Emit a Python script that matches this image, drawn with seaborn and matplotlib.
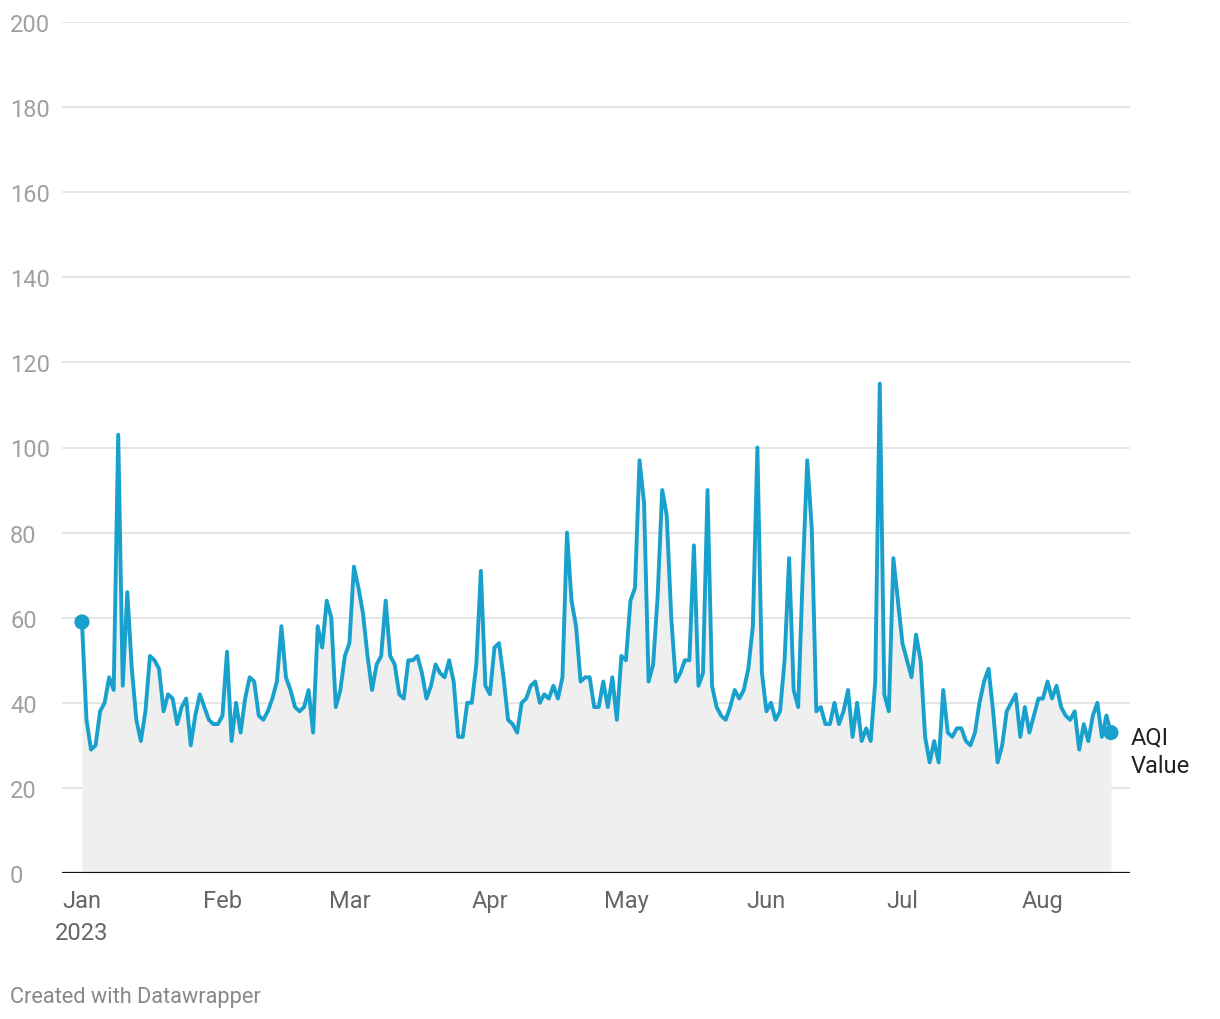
import pandas as pd
import seaborn as sns
import matplotlib.pyplot as plt

# daily AQI values, Jan 1 2023 onwards
aqi = [
    59, 36, 29, 30, 38, 40, 46, 43, 103, 44, 66, 48, 36, 31, 38, 51, 50, 48, 38, 42,
    41, 35, 39, 41, 30, 37, 42, 39, 36, 35, 35,
    37, 52, 31, 40, 33, 41, 46, 45, 37, 36, 38, 41, 45, 58, 46, 43, 39, 38, 39,
    43, 33, 58, 53, 64, 60, 39, 43, 51,
    54, 72, 67, 61, 51, 43, 49, 51, 64, 51, 49, 42, 41, 50, 50, 51, 47, 41, 44, 49,
    47, 46, 50, 45, 32, 32, 40, 40, 49, 71, 44,
    42, 53, 54, 46, 36, 35, 33, 40, 41, 44, 45, 40, 42, 41, 44, 41, 46, 80, 64, 58,
    45, 46, 46, 39, 39, 45, 39, 46, 36, 51,
    50, 64, 67, 97, 87, 45, 49, 65, 90, 84, 60, 45, 47, 50, 50, 77, 44, 47, 90, 44,
    39, 37, 36, 39, 43, 41, 43, 48, 58, 100, 47,
    38, 40, 36, 38, 50, 74, 43, 39, 70, 97, 81, 38, 39, 35, 35, 40, 35, 38, 43, 32,
    40, 31, 34, 31, 45, 115, 42, 38, 74, 64,
    54, 50, 46, 56, 50, 32, 26, 31, 26, 43, 33, 32, 34, 34, 31, 30, 33, 40, 45, 48,
    38, 26, 30, 38, 40, 42, 32, 39, 33, 37, 41,
    41, 45, 41, 44, 39, 37, 36, 38, 29, 35, 31, 37, 40, 32, 37, 33,
]
months = ["2023-01-01", "2023-02-01", "2023-03-01", "2023-04-01",
          "2023-05-01", "2023-06-01", "2023-07-01", "2023-08-01"]
month_labels = ["Jan\n2023", "Feb", "Mar", "Apr", "May", "Jun", "Jul", "Aug"]
y_ticks = [0, 20, 40, 60, 80, 100, 120, 140, 160, 180, 200]

df = pd.DataFrame({"date": pd.date_range("2023-01-01", periods=len(aqi)), "aqi": aqi})

sns.set_style("white")
plt.rcParams['font.family'] = ['Roboto', 'DejaVu Sans']

line_color = "#18a1cd"

fig = plt.figure(figsize=(12.2, 10.2), dpi=100)
ax = fig.add_axes([62 / 1220, 1 - 874 / 1020, (1130 - 62) / 1220, (874 - 23) / 1020])

ax.fill_between(df["date"], 0, df["aqi"], color="#efefef", linewidth=0, zorder=1)
sns.lineplot(data=df, x="date", y="aqi", ax=ax, color=line_color, linewidth=2.8, zorder=3)
ends = df.iloc[[0, -1]]
sns.scatterplot(data=ends, x="date", y="aqi", ax=ax, color=line_color, s=120,
                edgecolor="none", zorder=4)

start = pd.Timestamp("2023-01-01")
ax.set_xlim(start - pd.Timedelta(days=4.4), start + pd.Timedelta(days=231.2))
ax.set_ylim(0, 200)

for v in y_ticks[1:]:
    ax.axhline(v, color="#e3e3e3", linewidth=1.3, zorder=0)
ax.axhline(0, color="#111111", linewidth=1.6, zorder=5)

ax.set_yticks(y_ticks)
ax.set_yticklabels([str(v) for v in y_ticks], fontsize=17, color="#a0a0a0")
for lab in ax.get_yticklabels():
    lab.set_horizontalalignment("left")
ax.tick_params(axis="y", length=0, pad=52 * 72 / 100)

ax.set_xticks([pd.Timestamp(m) for m in months])
ax.set_xticklabels(month_labels, fontsize=17, color="#666666", linespacing=1.5)
ax.tick_params(axis="x", length=0, pad=11.5)

for s in ax.spines.values():
    s.set_visible(False)
ax.set_xlabel("")
ax.set_ylabel("")

fig.text(1131 / 1220, 1 - 752 / 1020, "AQI\nValue", fontsize=17, color="#222222",
         ha="left", va="center", linespacing=1.3)
fig.text(10 / 1220, 1 - 998 / 1020, "Created with Datawrapper", fontsize=15.7,
         color="#888888", ha="left", va="center")

fig.savefig("out.png", dpi=100)
